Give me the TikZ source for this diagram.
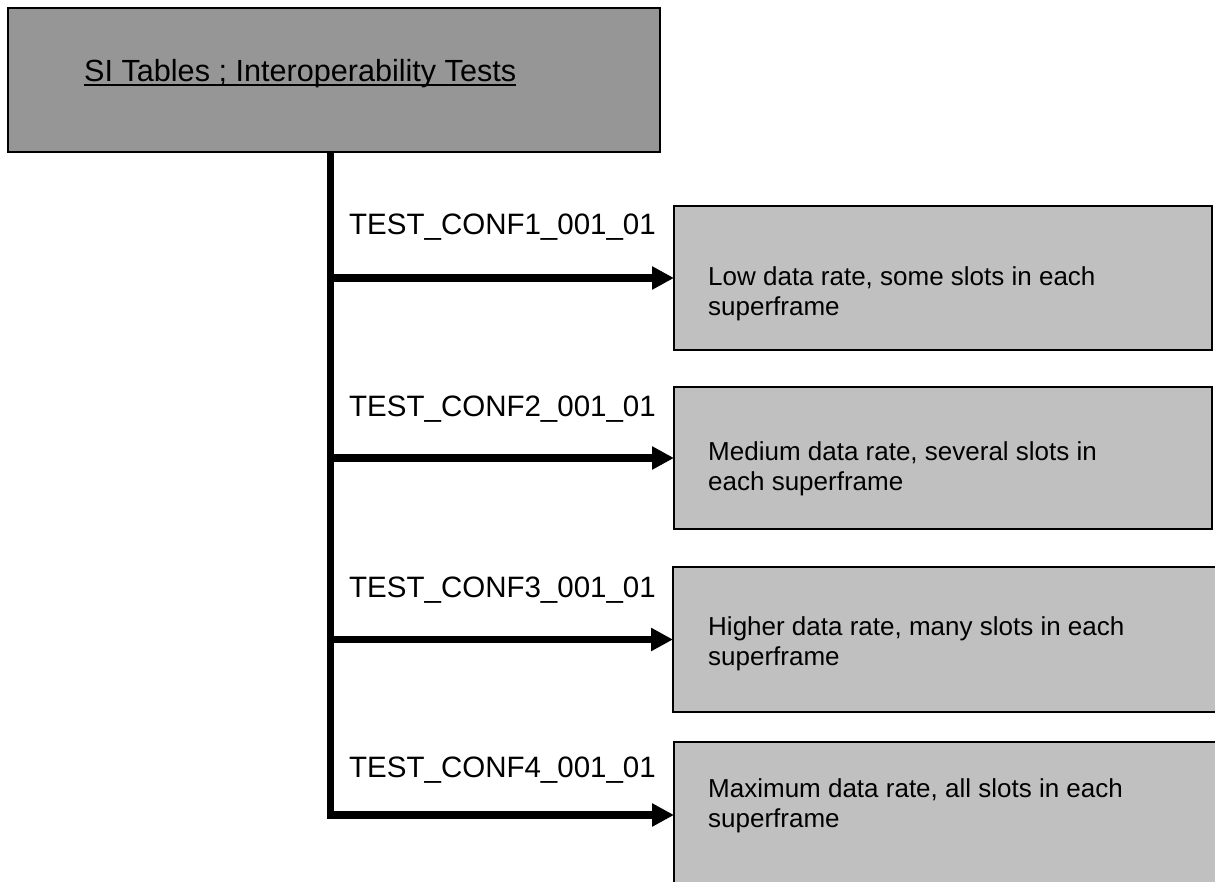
\documentclass[tikz,border=0pt]{standalone}
\usepackage{fontspec}
\setmainfont{Liberation Sans}
\usetikzlibrary{arrows.meta}
\definecolor{topgray}{RGB}{150,150,150}
\definecolor{boxgray}{RGB}{192,192,192}
\begin{document}
\begin{tikzpicture}[x=1pt,y=-1pt,
  topbox/.style={draw=black, line width=1.8pt, fill=topgray, anchor=north west, inner sep=0pt, outer sep=0pt, minimum width=652pt, minimum height=144pt},
  cfgbox/.style={draw=black, line width=1.6pt, fill=boxgray, anchor=north west, inner sep=0pt, outer sep=0pt},
  desc/.style={anchor=north west, inner sep=0pt, align=left, font=\fontsize{26}{30.5}\selectfont},
  lbl/.style={anchor=base west, inner sep=0pt, font=\fontsize{29.5}{34}\selectfont},
  ttl/.style={anchor=base west, inner sep=0pt, font=\fontsize{30.6}{36}\selectfont},
  trunk/.style={line width=7.3pt},
  arr/.style={line width=7.3pt, -{Triangle[length=22pt,width=22pt]}}]
\useasboundingbox (0,0) rectangle (1215,882);

% top box
\node[topbox] (top) at (8,8) {};
\node[ttl] (title) at (84,82) {SI Tables ; Interoperability Tests};
\draw[line width=2pt] ([yshift=-3.5pt]title.base west) -- ([yshift=-3.5pt]title.base east);

% configuration boxes
\node[cfgbox, minimum width=538pt, minimum height=144pt] (b1) at (674,206) {};
\node[cfgbox, minimum width=538pt, minimum height=142pt] (b2) at (674,387) {};
\node[cfgbox, minimum width=543pt, minimum height=145pt] (b3) at (673,567) {};
\node[cfgbox, minimum width=545pt, minimum height=146pt] (b4) at (674,742) {};

\node[desc] (d1) at (708,266) {Low data rate, some slots in each\\superframe};
\node[desc] (d2) at (708,441) {Medium data rate, several slots in\\each superframe};
\node[desc] (d3) at (708,616) {Higher data rate, many slots in each\\superframe};
\node[desc] (d4) at (708,778) {Maximum data rate, all slots in each\\superframe};

% labels
\node[lbl] (l1) at (349,235) {TEST\_CONF1\_001\_01};
\node[lbl] (l2) at (349,416) {TEST\_CONF2\_001\_01};
\node[lbl] (l3) at (349,597) {TEST\_CONF3\_001\_01};
\node[lbl] (l4) at (349,777) {TEST\_CONF4\_001\_01};

% trunk and branches
\coordinate (ttop) at (330.5,152);
\coordinate (tbot) at (330.5,819);
\coordinate (tleft) at (327,0);
\draw[trunk] (ttop) -- (tbot);
\draw[arr] (tleft |- b1.west) -- (b1.west);
\draw[arr] (tleft |- b2.west) -- (b2.west);
\draw[arr] (tleft |- b3.west) -- (b3.west);
\draw[arr] (tleft |- b4.west) -- (b4.west);
\end{tikzpicture}
\end{document}
